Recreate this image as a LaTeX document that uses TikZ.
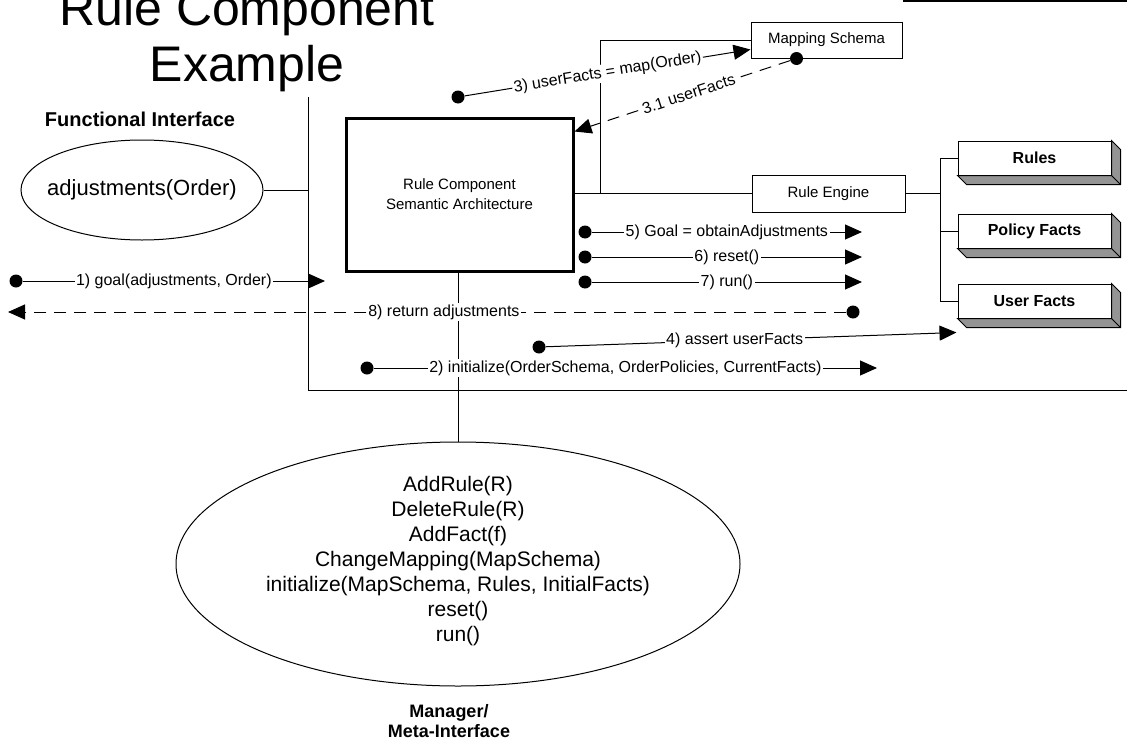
\documentclass[tikz,border=0pt]{standalone}
\usepackage{fontspec}
\setmainfont{Liberation Sans}
\usetikzlibrary{arrows.meta,shapes.geometric,calc}

\begin{document}
\begin{tikzpicture}[x=1pt,y=-1pt,
  wire/.style={line width=1pt},
  msg/.style={line width=1pt,-{Triangle[length=17pt,width=15pt]}},
  ret/.style={msg,dash pattern=on 12pt off 8pt},
  dot/.style={circle,fill=black,inner sep=0pt,minimum size=13pt},
  lbl/.style={fill=white,inner sep=1.5pt,font=\fontsize{16}{19}\selectfont},
  box/.style={draw,line width=1pt,fill=white,inner sep=0pt,font=\fontsize{15}{18}\selectfont},
  store/.style={box,font=\bfseries\fontsize{16}{19}\selectfont,minimum width=153pt,minimum height=34pt},
  sidefill/.style={draw,line width=1pt,fill=black!42},
]
\useasboundingbox (0,0) rectangle (1127,744);
\clip (0,0) rectangle (1127,744);

% title and interface captions
\node[anchor=base,font=\fontsize{50}{58}\selectfont] (t1) at (247,25) {Rule Component};
\node[anchor=base,font=\fontsize{50}{58}\selectfont] (t2) at (247,81) {Example};
\node[anchor=base,font=\bfseries\fontsize{20}{23}\selectfont] (fitit) at (140,126) {Functional Interface};

% component frame
\coordinate (ftop) at (308,97);
\coordinate (fbot) at (308,390);
\coordinate (fend) at (1127,390);
\draw[wire] (ftop) -- (fbot) -- (fend);
\coordinate (hl) at (903,1);
\coordinate (hr) at (1127,1);
\draw[line width=2pt] (hl) -- (hr);

% functional interface
\node[draw,ellipse,line width=1pt,minimum width=242pt,minimum height=100pt,inner sep=0pt] (fi) at (142,190) {};
\node[font=\fontsize{22}{26}\selectfont] (fitxt) at (142,190) {adjustments(Order)};
\draw[wire] (fi.east) -- (fi.east -| ftop);

% central component
\node[draw,line width=3pt,minimum width=227pt,minimum height=153pt,inner sep=0pt,align=center,font=\fontsize{15}{20}\selectfont] (rc) at (459.5,194.5) {Rule Component\\Semantic Architecture};

% mapping schema and rule engine
\node[box,minimum width=151pt,minimum height=36pt] (ms) at (826.5,40) {Mapping Schema};
\node[box,minimum width=153pt,minimum height=37pt] (re) at (828.5,193.5) {Rule Engine};
\coordinate (jn) at (600,193.5);
\draw[wire] (rc.east |- re.west) -- (re.west);
\draw[wire] (jn) |- (ms.west);

% knowledge stores
\foreach \n/\y/\t in {rules/158/Rules, pf/231/Policy Facts, uf/301/User Facts}{
  \node[store] (\n) at (1034.5,\y) {\t};
  \draw[sidefill] (\n.south west) -- ++(9,9) -- ($(\n.south east)+(9,9)$) -- ($(\n.north east)+(9,9)$) -- (\n.north east) -- (\n.south east) -- cycle;
  \draw[wire] (\n.south east) -- ++(9,9);
}
\coordinate (bx) at (940,0);
\draw[wire] (re.east) -- (re.east -| bx);
\draw[wire] (rules.west) -- (rules.west -| bx) -- (uf.west -| bx) -- (uf.west);
\draw[wire] (pf.west) -- (pf.west -| bx);

% manager / meta interface
\node[draw,ellipse,line width=1pt,minimum width=564pt,minimum height=244pt,inner sep=0pt] (mgr) at (458,564) {};
\node[align=center,font=\fontsize{21}{25}\selectfont] (ops) at (458,561)
  {AddRule(R)\\DeleteRule(R)\\AddFact(f)\\ChangeMapping(MapSchema)\\initialize(MapSchema, Rules, InitialFacts)\\reset()\\run()};
\draw[wire] (mgr.north |- rc.south) -- (mgr.north);
\node[align=center,font=\bfseries\fontsize{18}{20}\selectfont] (mm) at (449,721) {Manager/\\Meta-Interface};

% messages
\node[dot] (b1) at (16,281) {};
\coordinate (e1) at (325,281);
\draw[msg] (b1) -- node[lbl] {1) goal(adjustments, Order)} (e1);

\node[dot] (b2) at (367,368) {};
\coordinate (e2) at (877,368);
\draw[msg] (b2) -- node[lbl] {2) initialize(OrderSchema, OrderPolicies, CurrentFacts)} (e2);

\node[dot] (b3) at (458,97) {};
\coordinate (e3) at ($(ms.south west)+(0,-9)$);
\draw[msg] (b3) -- node[lbl,sloped] {3) userFacts = map(Order)} (e3);

\node[dot] (b31) at ($(ms.south west)+(46,0)$) {};
\coordinate (e31) at ($(rc.north east)+(0,15)$);
\draw[ret] (b31) -- node[lbl,sloped,pos=0.47] {3.1 userFacts} (e31);

\node[dot] (b4) at (539,347) {};
\coordinate (e4) at ($(uf.south west)+(-1,14)$);
\draw[msg] (b4) -- node[lbl,pos=0.46] {4) assert userFacts} (e4);

\node[dot] (b5) at (585,232) {};
\coordinate (e5) at (862,232);
\draw[msg] (b5) -- node[lbl] {5) Goal = obtainAdjustments} (e5);

\node[dot] (b6) at (585,257) {};
\coordinate (e6) at (862,257);
\draw[msg] (b6) -- node[lbl] {6) reset()} (e6);

\node[dot] (b7) at (585,282) {};
\coordinate (e7) at (862,282);
\draw[msg] (b7) -- node[lbl] {7) run()} (e7);

\node[dot] (b8) at (853,312) {};
\coordinate (e8) at (8,312);
\draw[ret] (b8) -- node[lbl,pos=0.48] {8) return adjustments} (e8);
\end{tikzpicture}
\end{document}
